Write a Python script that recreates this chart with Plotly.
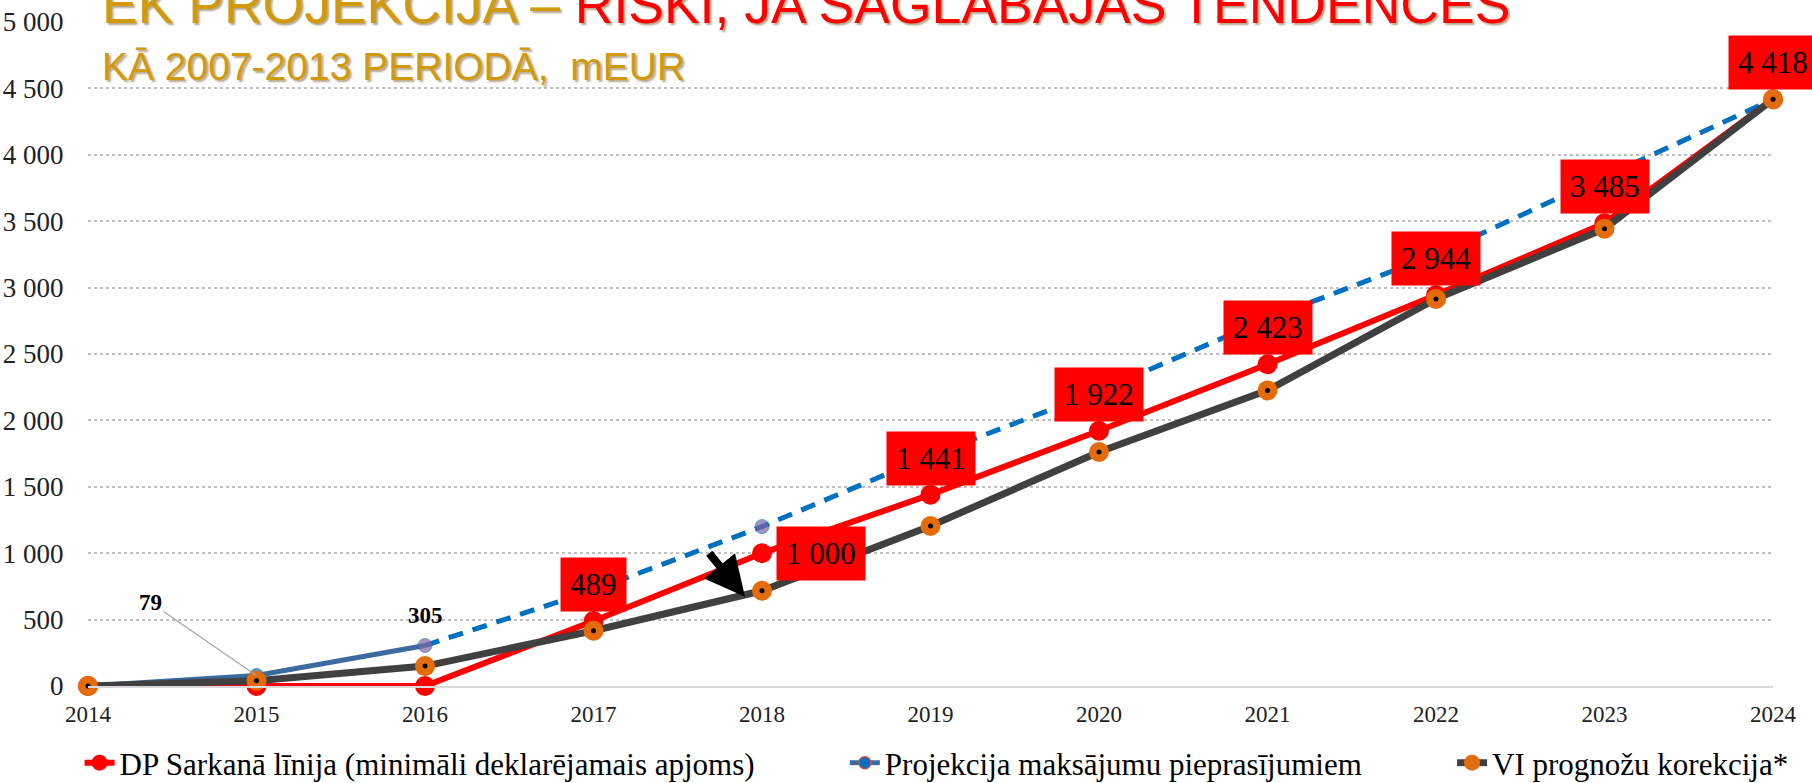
import plotly.graph_objects as go

# ---------------- data ----------------
years = [2014, 2015, 2016, 2017, 2018, 2019, 2020, 2021, 2022, 2023, 2024]
dp_red_line = [0, 0, 0, 489, 1000, 1441, 1922, 2423, 2944, 3485, 4418]
vi_correction = [0, 40, 150, 416, 717, 1205, 1762, 2226, 2915, 3444, 4418]
proj_actual_years = [2014, 2015, 2016]
proj_actual = [0, 79, 305]
proj_fc_years = [2016, 2017, 2018, 2019, 2020, 2021, 2022, 2023, 2024]
proj_fc = [305, 720, 1200, 1735, 2220, 2765, 3250, 3830, 4418]

y_ticks = [0, 500, 1000, 1500, 2000, 2500, 3000, 3500, 4000, 4500, 5000]

names = [
    "DP Sarkanā līnija (minimāli deklarējamais apjoms)",
    "Projekcija maksājumu pieprasījumiem",
    "VI prognožu korekcija*",
]
title_gold = "EK PROJEKCIJA – "
title_red = "RISKI, JA SAGLABĀJAS TENDENCES"
subtitle = "KĀ 2007-2013 PERIODĀ,  mEUR"


def fmt(v):
    return f"{v:,}".replace(",", " ")


RED = "#FF0000"
GRAY = "#404040"
ORANGE = "#E46C0A"
BLUE_SOLID = "#3B6A9E"
BLUE_DASH = "#0070C0"
PURPLE = "#8064A2"
GOLD = "#D09A0C"
SERIF = "Liberation Serif, Times New Roman, serif"
SANS = "Liberation Sans, Arial, sans-serif"
PAD = "\u00a0" * 11

fig = go.Figure()

# projection forecast (dashed)
fig.add_trace(go.Scatter(
    x=proj_fc_years, y=proj_fc, mode="lines+markers",
    line=dict(color=BLUE_DASH, width=5, dash="15px,10px"),
    marker=dict(size=[0, 0, 14, 0, 0, 0, 0, 0, 0], color=PURPLE),
    showlegend=False, cliponaxis=False, hoverinfo="skip"))
# projection actual (solid)
fig.add_trace(go.Scatter(
    x=proj_actual_years, y=proj_actual, mode="lines+markers",
    line=dict(color=BLUE_SOLID, width=5),
    marker=dict(size=[0, 14, 14], color=[BLUE_DASH, BLUE_DASH, PURPLE]),
    showlegend=False, cliponaxis=False, hoverinfo="skip"))
# red line
fig.add_trace(go.Scatter(
    x=years, y=dp_red_line, mode="lines+markers", name=names[0] + PAD,
    line=dict(color=RED, width=6), marker=dict(size=20, color=RED),
    legendrank=1, cliponaxis=False))
# gray line
fig.add_trace(go.Scatter(
    x=years, y=vi_correction, mode="lines+markers", name=names[2],
    line=dict(color=GRAY, width=7), marker=dict(size=20, color=ORANGE),
    legendrank=3, cliponaxis=False))
# black dots on orange markers
fig.add_trace(go.Scatter(
    x=years, y=vi_correction, mode="markers",
    marker=dict(size=5, color="black"), showlegend=False,
    cliponaxis=False, hoverinfo="skip"))
# legend-only entry for projection
fig.add_trace(go.Scatter(
    x=[None], y=[None], mode="lines+markers", name=names[1] + PAD,
    line=dict(color=BLUE_SOLID, width=5),
    marker=dict(size=12, color=BLUE_DASH, line=dict(color="#C0504D", width=1.5)),
    legendrank=2))

annotations = []
# red data labels
for i in range(3, len(years)):
    xs, ys = (59, 0) if dp_red_line[i] == 1000 else (0, 36.5)
    annotations.append(dict(
        x=years[i], y=dp_red_line[i], xref="x", yref="y",
        text=fmt(dp_red_line[i]), showarrow=False,
        font=dict(family=SERIF, size=31, color="black"),
        bgcolor=RED, borderpad=9, xshift=xs, yshift=ys))

# projection labels
annotations.append(dict(
    x=proj_actual_years[1], y=proj_actual[1], xref="x", yref="y",
    text="<b>" + fmt(proj_actual[1]) + "</b>", showarrow=True,
    arrowhead=0, arrowwidth=1.3, arrowcolor="#A6A6A6", ax=-106, ay=-73,
    standoff=0, font=dict(family=SERIF, size=23, color="black")))
annotations.append(dict(
    x=proj_actual_years[2], y=proj_actual[2], xref="x", yref="y",
    text="<b>" + fmt(proj_actual[2]) + "</b>", showarrow=False,
    yshift=30, font=dict(family=SERIF, size=23, color="black")))

# black arrow pointing to 2018 correction point
annotations.append(dict(
    x=years[4], y=vi_correction[4], xref="x", yref="y", text="",
    showarrow=True, arrowhead=2, arrowsize=1.0, arrowwidth=8,
    arrowcolor="black", ax=-37, ay=-45, xshift=-17, yshift=-6))

# title and subtitle
annotations.append(dict(
    x=0, y=1, xref="paper", yref="paper", xanchor="left", yanchor="bottom",
    xshift=12, yshift=-14, showarrow=False,
    text=f'<span style="color:{GOLD}">{title_gold}</span>'
         f'<span style="color:{RED}">{title_red}</span>',
    font=dict(family=SANS, size=53.5, shadow="2px 2px 2px rgba(90,60,0,0.45)")))
annotations.append(dict(
    x=0, y=1, xref="paper", yref="paper", xanchor="left", yanchor="bottom",
    xshift=12, yshift=-68, showarrow=False, text=subtitle,
    font=dict(family=SANS, size=39, color=GOLD,
              shadow="2px 2px 2px rgba(90,60,0,0.45)")))

fig.update_layout(
    width=1812, height=783,
    margin=dict(l=88, r=39, t=22, b=97, autoexpand=False),
    paper_bgcolor="white", plot_bgcolor="white",
    font=dict(family=SERIF, color="#222222"),
    showlegend=True,
    legend=dict(orientation="h", xref="paper", yref="paper",
                x=-0.005, xanchor="left", y=-77 / 664, yanchor="middle",
                font=dict(family=SERIF, size=31, color="black"),
                traceorder="normal"),
    annotations=annotations,
)
fig.update_xaxes(
    range=[years[0], years[-1]], tickvals=years, ticktext=[str(y) for y in years],
    showgrid=False, zeroline=False, showline=True, linecolor="#D9D9D9",
    linewidth=2, ticks="outside", ticklen=6, tickcolor="rgba(0,0,0,0)",
    tickfont=dict(family=SERIF, size=23, color="#222222"))
fig.update_yaxes(
    range=[y_ticks[0], y_ticks[-1]], tickvals=y_ticks,
    ticktext=[fmt(v) for v in y_ticks],
    showgrid=True, gridcolor="#BFBFBF", griddash="dot", gridwidth=1.5,
    zeroline=False, showline=False, ticks="outside", ticklen=18,
    tickcolor="rgba(0,0,0,0)",
    tickfont=dict(family=SERIF, size=27, color="#222222"))

fig.write_html("out.html", config={"displayModeBar": False},
               post_script="document.body.style.margin='0px';")
